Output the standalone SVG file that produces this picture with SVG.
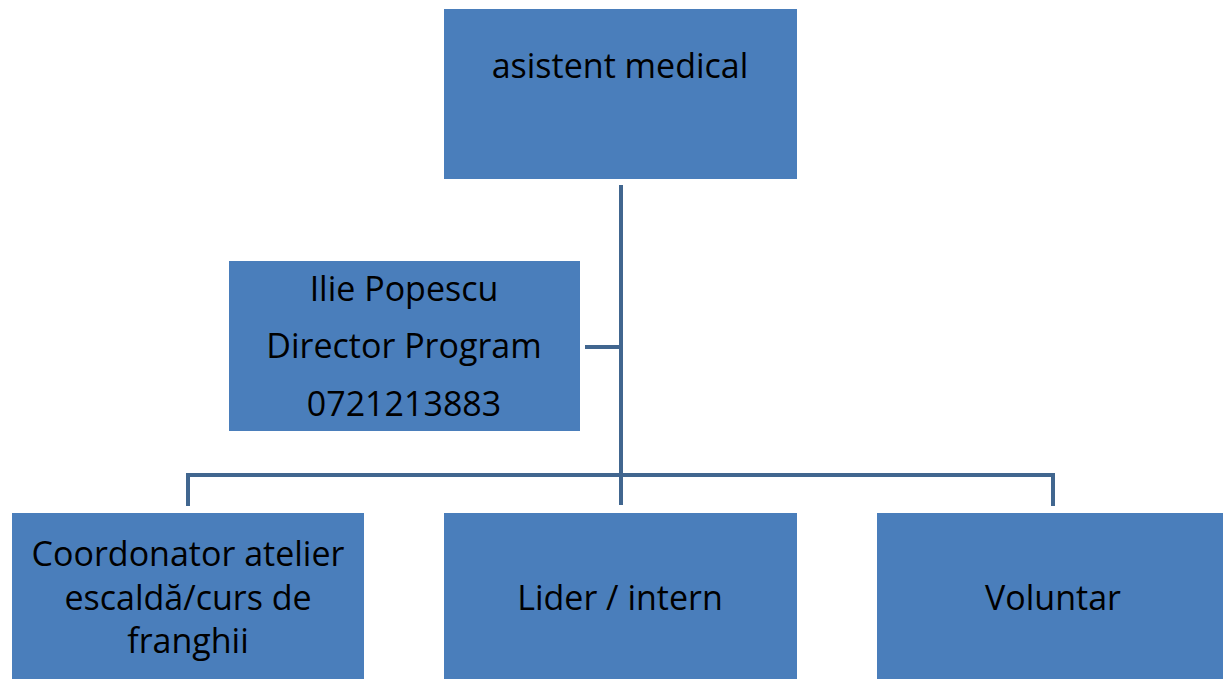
<svg xmlns="http://www.w3.org/2000/svg" width="1223" height="679" viewBox="0 0 1223 679">
<style>
.box{fill:#4a7ebb;}
.t{font-family:"Open Sans","Liberation Sans",sans-serif;font-size:34px;fill:#000;text-anchor:middle;}
.c{fill:none;stroke:#41668f;stroke-width:4;}
</style>
<rect width="1223" height="679" fill="#fff"/>
<g id="connectors">
<path class="c" d="M621 185 V505"/>
<path class="c" d="M585 347 H621"/>
<path class="c" d="M188 506 V475 H1053 V506"/>
</g>
<g id="n-asistent">
<rect class="box" x="444" y="9" width="353" height="170"/>
<text class="t" x="620" y="78">asistent medical</text>
</g>
<g id="n-director">
<rect class="box" x="229" y="261" width="351" height="170"/>
<text class="t" x="404" y="301">Ilie Popescu</text>
<text class="t" x="404" y="358">Director Program</text>
<text class="t" x="404" y="416">0721213883</text>
</g>
<g id="n-coordonator">
<rect class="box" x="12" y="513" width="352" height="170"/>
<text class="t" x="188" y="566">Coordonator atelier</text>
<text class="t" x="188" y="610">escaldă/curs de</text>
<text class="t" x="188" y="653">franghii</text>
</g>
<g id="n-lider">
<rect class="box" x="444" y="513" width="353" height="170"/>
<text class="t" x="620" y="610">Lider / intern</text>
</g>
<g id="n-voluntar">
<rect class="box" x="877" y="513" width="350" height="170"/>
<text class="t" x="1053" y="610">Voluntar</text>
</g>
</svg>
